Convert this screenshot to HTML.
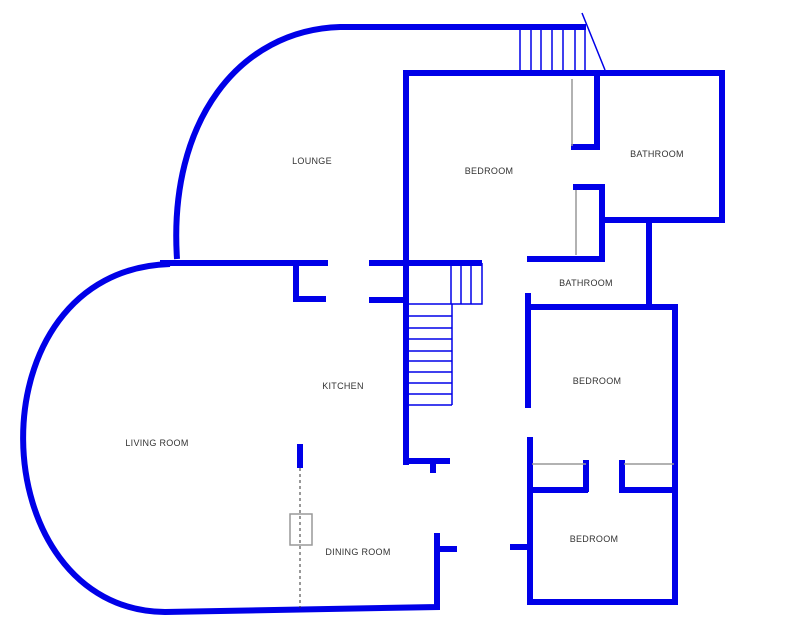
<!DOCTYPE html>
<html><head><style>body{margin:0;background:#fff}svg{display:block}text{font-family:"Liberation Sans",sans-serif;font-size:9px;fill:#333;text-anchor:middle;letter-spacing:0.3px}</style></head><body>
<svg width="800" height="640" viewBox="0 0 800 640">
<g fill="none" stroke="#0000e8" stroke-width="6">
<path d="M177,259 C168,120 240,30 340,27 L586,27"/>
<path d="M406,465 L406,73 L722,73 L722,220 L602,220"/>
<path d="M597,73 L597,147 L571,147"/>
<path d="M573,187 L602,187 L602,259 L527,259"/>
<path d="M649,222 L649,305"/>
<path d="M528,293 L528,408"/>
<path d="M528,307 L675,307 L675,602 L530,602 L530,437"/>
<path d="M531,490 L588,490 M586,460 L586,492"/>
<path d="M622,460 L622,490 L675,490"/>
<path d="M510,547 L530,547"/>
<path d="M369,263 L482,263"/>
<path d="M369,300 L406,300"/>
<path d="M406,461 L450,461 M433,461 L433,473"/>
<path d="M160,263 L328,263 M296,263 L296,299 L326,299"/>
<path d="M170,264 C-30,270 -20,610 165,612 L437,607 L437,533 M437,549 L457,549"/>
<path d="M300,444 L300,468"/>
</g>
<g fill="none" stroke="#0000e8" stroke-width="1.5">
<path d="M520,27 V70 M531,27 V70 M541,27 V70 M552,27 V70 M563,27 V70 M575,27 V70 M585,27 V70 M582,13 L605,70"/>
<path d="M482,263 V304 H409 M451,263 V304 M461,263 V304 M471,263 V304"/>
<path d="M452,304 V405 M409,316 H452 M409,328 H452 M409,339 H452 M409,351 H452 M409,361 H452 M409,372 H452 M409,383 H452 M409,394 H452 M409,405 H452"/>
</g>
<g stroke="#999" stroke-width="1.5" fill="none">
<path d="M572,79 V146 M576,190 V255 M532,464 H586 M624,464 H674"/>
<rect x="290" y="514" width="22" height="31"/>
<path d="M300,468 V608" stroke="#333" stroke-width="1" stroke-dasharray="3,3"/>
</g>
<text x="312" y="164">LOUNGE</text>
<text x="489" y="174">BEDROOM</text>
<text x="657" y="157">BATHROOM</text>
<text x="586" y="286">BATHROOM</text>
<text x="343" y="389">KITCHEN</text>
<text x="157" y="446">LIVING ROOM</text>
<text x="597" y="384">BEDROOM</text>
<text x="594" y="542">BEDROOM</text>
<text x="358" y="555">DINING ROOM</text>
</svg>
</body></html>
